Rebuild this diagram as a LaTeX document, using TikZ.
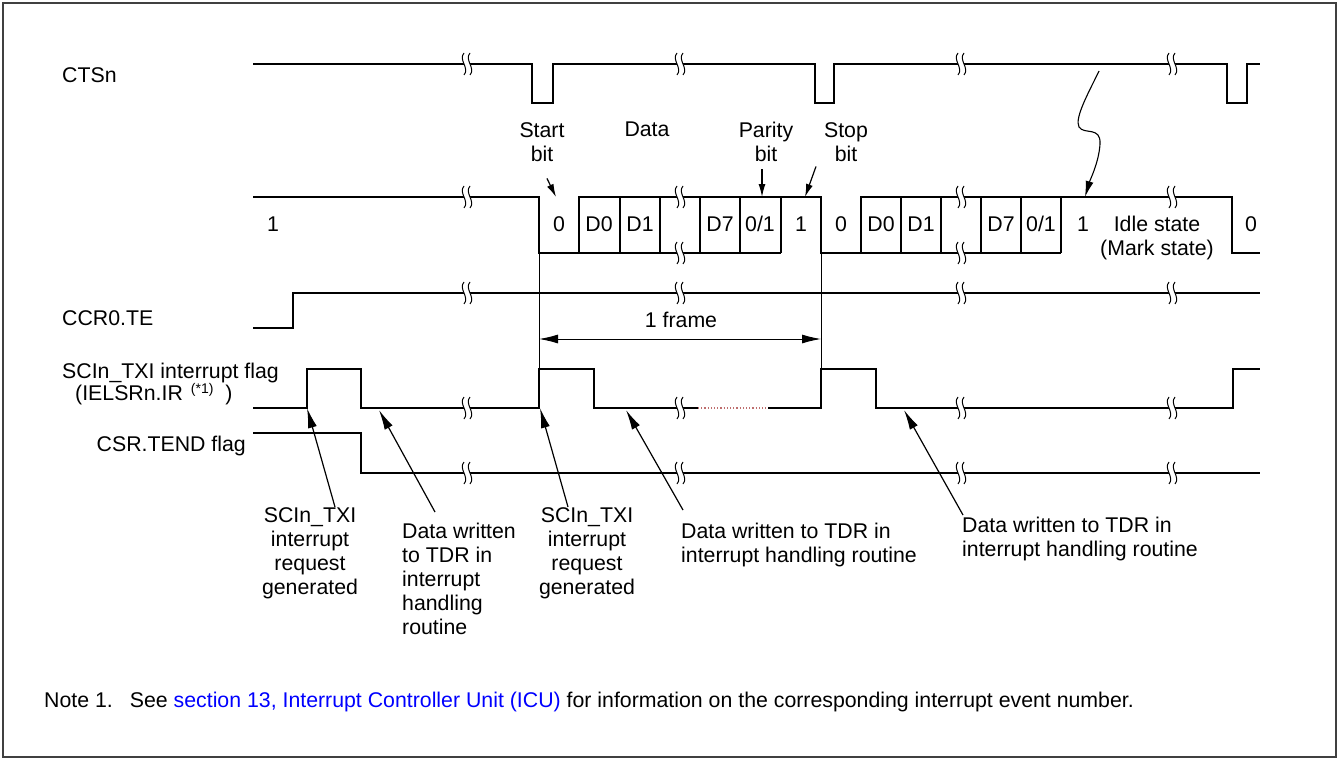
\documentclass[tikz,border=0pt]{standalone}
\usepackage{fontspec}
\setmainfont{Liberation Sans}
\usetikzlibrary{arrows.meta,positioning}

\definecolor{linkblue}{RGB}{0,0,255}
\definecolor{dotred}{RGB}{190,110,110}

\tikzset{
  brk/.pic={
    \fill[white] (-3,-11) .. controls (-9,-4) and (3,4) .. (-3,11) -- (3,11) .. controls (9,4) and (-3,-4) .. (3,-11) -- cycle;
    \draw[line width=1pt] (-3,-11) .. controls (-9,-4) and (3,4) .. (-3,11);
    \draw[line width=1pt] (3,-11) .. controls (-3,-4) and (9,4) .. (3,11);
  }
}

\begin{document}
\begin{tikzpicture}[x=1pt, y=-1pt, every node/.style={font=\fontsize{21.3}{24}\selectfont, inner sep=0pt}, sig/.style={line width=1.6pt}, guide/.style={line width=0.9pt}, txt/.style={anchor=north, align=center}, bitlbl/.style={anchor=base}, arrow/.style={-{Latex[length=20pt, width=9pt]}, line width=1.2pt}, smallarrow/.style={-{Latex[length=13pt, width=7pt]}, line width=1.2pt}, dim/.style={{Latex[length=19pt, width=9pt]}-{Latex[length=19pt, width=9pt]}, line width=1pt}]
\useasboundingbox (0,0) rectangle (1339,760);
\draw[line width=1.2pt, black!75] (3,3) rectangle (1336,757);

\node[anchor=base west] (ctsn) at (62,82) {CTSn};
\node[anchor=base west] (te) at (62,325) {CCR0.TE};
\node[anchor=north west, align=left, font=\fontsize{21.3}{22}\selectfont] (txi) at (62,363) {SCIn\_TXI interrupt flag\\\hspace*{13pt}(IELSRn.IR\hspace{8pt}\raisebox{7pt}{\fontsize{14}{14}\selectfont(*1)}\hspace{12pt})};
\node[anchor=base east] (tend) at (246,451) {CSR.TEND flag};

\draw[sig] (253,64) -| (532,103) -| (553,64) -| (815,103) -| (834,64) -| (1227,103) -| (1247,64) -- (1260,64);

\draw[sig] (253,197) -- (539,197) -- (539,253) -- (781,253);
\draw[sig] (579,253) -- (579,197) -- (821,197) -- (821,253) -- (1061,253);
\draw[sig] (861,253) -- (861,197) -- (1232,197) -- (1232,253) -- (1260,253);
\draw[sig] (620,197) -- (620,253) (660,197) -- (660,253) (700,197) -- (700,253) (740,197) -- (740,253) (781,197) -- (781,253) (901,197) -- (901,253) (941,197) -- (941,253) (981,197) -- (981,253) (1021,197) -- (1021,253) (1061,197) -- (1061,253);

\draw[sig] (253,328) -| (293,293) -- (1260,293);

\draw[sig] (253,408) -| (307,369) -| (361,408) -| (539,369) -| (594,408) -- (698,408);
\draw[dotted, dotred, line width=1.2pt] (698,408) -- (768,408);
\draw[sig] (768,408) -| (821,369) -| (876,408) -| (1233,369) -- (1260,369);

\draw[sig] (253,433) -| (361,473) -- (1260,473);

\draw[guide] (539,253) -- (539,369);
\draw[guide] (821,253) -- (821,369);

\path pic at (467,64) {brk} pic at (680,64) {brk} pic at (961,64) {brk} pic at (1172,64) {brk};
\path pic at (467,197) {brk} pic at (680,197) {brk} pic at (680,253) {brk} pic at (961,197) {brk} pic at (961,253) {brk} pic at (1172,197) {brk};
\path pic at (467,293) {brk} pic at (680,293) {brk} pic at (961,293) {brk} pic at (1172,293) {brk};
\path pic at (467,408) {brk} pic at (680,408) {brk} pic at (961,408) {brk} pic at (1172,408) {brk};
\path pic at (467,473) {brk} pic at (680,473) {brk} pic at (961,473) {brk} pic at (1172,473) {brk};

\node[txt] (startlbl) at (542,122) {Start\\bit};
\node[txt] (datalbl) at (647,122) {Data};
\node[txt] (paritylbl) at (766,122) {Parity\\bit};
\node[txt] (stoplbl) at (846,122) {Stop\\bit};

\node[bitlbl] (mark1) at (273,231) {1};
\node[bitlbl] (st1) at (559,231) {0};
\node[bitlbl] (d0a) at (599,231) {D0};
\node[bitlbl] (d1a) at (640,231) {D1};
\node[bitlbl] (d7a) at (720,231) {D7};
\node[bitlbl] (pa) at (760,231) {0/1};
\node[bitlbl] (sp1) at (801,231) {1};
\node[bitlbl] (st2) at (841,231) {0};
\node[bitlbl] (d0b) at (881,231) {D0};
\node[bitlbl] (d1b) at (921,231) {D1};
\node[bitlbl] (d7b) at (1001,231) {D7};
\node[bitlbl] (pb) at (1041,231) {0/1};
\node[bitlbl] (sp2) at (1083,231) {1};
\node[txt] (idlelbl) at (1157,216) {Idle state\\(Mark state)};
\node[bitlbl] (st3) at (1251,231) {0};

\coordinate (starttip) at (556,197);
\coordinate (paritytip) at (762,197);
\coordinate (stoptip) at (805,197);
\draw[smallarrow] ([xshift=5pt,yshift=-17pt]startlbl.south) -- (starttip);
\draw[smallarrow] ([xshift=-4pt,yshift=-7pt]paritylbl.south) -- (paritytip);
\draw[smallarrow] ([xshift=-30pt,yshift=-5pt]stoplbl.south) -- (stoptip);

\coordinate (ctsmark) at (1099,71);
\coordinate (idletip) at (1085,197);
\draw[-{Latex[length=16pt, width=8pt]}, line width=1.1pt] (ctsmark) .. controls (1090,90) and (1074,118) .. (1079,127) .. controls (1084,135) and (1101,126) .. (1100,144) .. controls (1099,162) and (1090,180) .. (idletip);

\coordinate (fl) at (539,339);
\coordinate (fr) at (821,339);
\draw[dim] (fl) -- (fr);
\node[bitlbl] (framelbl) at (681,327) {1 frame};

\node[txt] (sciA) at (310,507) {SCIn\_TXI\\interrupt\\request\\generated};
\node[anchor=north west, align=left] (datA) at (402,523) {Data written\\to TDR in\\interrupt\\handling\\routine};
\node[txt] (sciB) at (587,507) {SCIn\_TXI\\interrupt\\request\\generated};
\node[anchor=north west, align=left] (datB) at (681,523) {Data written to TDR in\\interrupt handling routine};
\node[anchor=north west, align=left] (datC) at (962,517) {Data written to TDR in\\interrupt handling routine};

\coordinate (txitip1) at (307,408);
\coordinate (wrtip1) at (379,410);
\coordinate (txitip2) at (540,408);
\coordinate (wrtip2) at (626,410);
\coordinate (wrtip3) at (904,410);
\draw[arrow] ([xshift=25pt]sciA.north) -- (txitip1);
\draw[arrow] ([xshift=33pt,yshift=11pt]datA.north west) -- (wrtip1);
\draw[arrow] ([xshift=-19pt]sciB.north) -- (txitip2);
\draw[arrow] ([xshift=2pt,yshift=13pt]datB.north west) -- (wrtip2);
\draw[arrow] ([xshift=1pt,yshift=2pt]datC.north west) -- (wrtip3);

\node[anchor=base west] (note1) at (44,707) {Note 1.\hspace{17pt}See \textcolor{linkblue}{section 13, Interrupt Controller Unit (ICU)} for information on the corresponding interrupt event number.};
\end{tikzpicture}
\end{document}
